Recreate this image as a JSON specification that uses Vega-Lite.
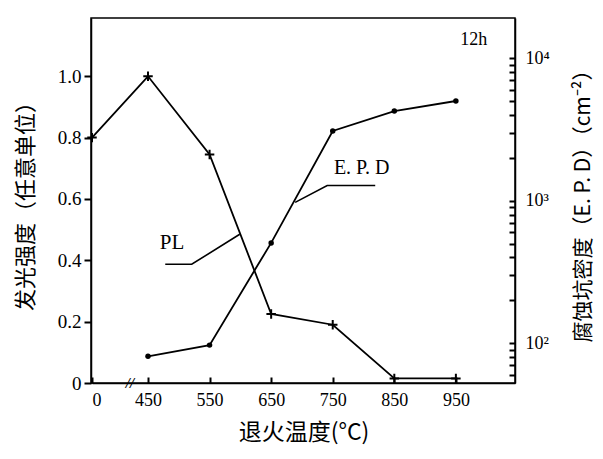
{
  "$schema": "https://vega.github.io/schema/vega-lite/v6.json",
  "width": 424,
  "height": 365,
  "autosize": {"type": "none"},
  "padding": {"left": 91, "top": 18, "right": 88, "bottom": 76},
  "background": "white",
  "config": {
    "view": {"stroke": "black", "strokeWidth": 1.5},
    "axis": {
      "domainColor": "black", "domainWidth": 1.5,
      "tickColor": "black", "tickWidth": 2,
      "labelColor": "black", "titleColor": "black", "grid": false,
      "labelFont": "Liberation Serif", "labelFontSize": 18,
      "titleFont": "Noto Sans CJK SC", "titleFontWeight": "normal", "titleFontSize": 19
    }
  },
  "datasets": {
    "pl": [
      {"T": 0, "v": 0.8},
      {"T": 450, "v": 1.0},
      {"T": 550, "v": 0.745},
      {"T": 650, "v": 0.225},
      {"T": 750, "v": 0.19},
      {"T": 850, "v": 0.015},
      {"T": 950, "v": 0.015}
    ],
    "epd": [
      {"T": 450, "e": 81},
      {"T": 550, "e": 97},
      {"T": 650, "e": 506},
      {"T": 750, "e": 3085},
      {"T": 850, "e": 4260},
      {"T": 950, "e": 5010}
    ],
    "ann": [
      {"T": 979, "v": 1.119, "label": "12h", "s": 18},
      {"T": 489, "v": 0.455, "label": "PL", "s": 21},
      {"T": 797, "v": 0.702, "label": "E. P. D", "s": 20}
    ],
    "leader": [
      {"T": 478, "v": 0.387, "g": "a", "o": 1},
      {"T": 521, "v": 0.387, "g": "a", "o": 2},
      {"T": 599, "v": 0.485, "g": "a", "o": 3},
      {"T": 819, "v": 0.644, "g": "b", "o": 1},
      {"T": 741, "v": 0.644, "g": "b", "o": 2},
      {"T": 689, "v": 0.589, "g": "b", "o": 3}
    ],
    "brk": [
      {"T": 305, "v": 0, "label": "//"}
    ]
  },
  "layer": [
    {
      "data": {"name": "pl"},
      "mark": {"type": "line", "color": "black", "strokeWidth": 1.8,
        "point": {"shape": "M-1,0L1,0M0,-1L0,1", "filled": false, "color": "black", "strokeWidth": 2, "size": 90, "opacity": 1}},
      "encoding": {
        "x": {
          "field": "T", "type": "quantitative",
          "scale": {"domain": [0, 450, 1046], "range": [1, 57, 424], "nice": false, "zero": false},
          "axis": {
            "values": [0, 450, 550, 650, 750, 850, 950], "format": "d",
            "tickSize": -6, "labelPadding": 14, "labelFontSize": 18,
            "title": "退火温度(°C)", "titleFontSize": 23, "titlePadding": 12
          }
        },
        "y": {
          "field": "v", "type": "quantitative",
          "scale": {"domain": [0, 1.19], "nice": false},
          "axis": {
            "orient": "left",
            "values": [0, 0.2, 0.4, 0.6, 0.8, 1.0],
            "labelExpr": "datum.value == 0 ? '0' : format(datum.value, '.1f')",
            "tickSize": 7, "labelPadding": 3, "labelFontSize": 19,
            "title": "发光强度（任意单位）", "titleFontSize": 22, "titlePadding": 20
          }
        }
      }
    },
    {
      "data": {"name": "leader"},
      "mark": {"type": "line", "color": "black", "strokeWidth": 1.6},
      "encoding": {
        "x": {"field": "T", "type": "quantitative"},
        "y": {"field": "v", "type": "quantitative", "scale": {"domain": [0, 1.19], "nice": false}, "axis": null},
        "detail": {"field": "g"},
        "order": {"field": "o", "type": "quantitative"}
      }
    },
    {
      "data": {"name": "ann"},
      "mark": {"type": "text", "font": "Liberation Serif", "color": "black"},
      "encoding": {
        "x": {"field": "T", "type": "quantitative"},
        "y": {"field": "v", "type": "quantitative", "scale": {"domain": [0, 1.19], "nice": false}, "axis": null},
        "text": {"field": "label"},
        "size": {"field": "s", "type": "quantitative", "scale": null}
      }
    },
    {
      "data": {"name": "brk"},
      "mark": {"type": "text", "font": "Liberation Serif", "fontStyle": "italic", "fontSize": 15, "color": "black", "fontWeight": "bold"},
      "encoding": {
        "x": {"field": "T", "type": "quantitative"},
        "y": {"field": "v", "type": "quantitative", "scale": {"domain": [0, 1.19], "nice": false}, "axis": null},
        "text": {"field": "label"}
      }
    },
    {
      "data": {"name": "epd"},
      "mark": {"type": "line", "color": "black", "strokeWidth": 1.8,
        "point": {"shape": "circle", "filled": true, "color": "black", "size": 30, "opacity": 1}},
      "encoding": {
        "x": {
          "field": "T", "type": "quantitative",
          "scale": {"domain": [0, 450, 1046], "range": [1, 57, 424], "nice": false, "zero": false}
        },
        "y": {
          "field": "e", "type": "quantitative",
          "scale": {"type": "log", "domain": [52.6, 19150], "nice": false},
          "axis": {
            "orient": "right",
            "values": [60, 70, 80, 90, 100, 200, 300, 400, 500, 600, 700, 800, 900, 1000, 2000, 3000, 4000, 5000, 6000, 7000, 8000, 9000, 10000],
            "labelExpr": "datum.value == 100 ? '10²' : datum.value == 1000 ? '10³' : datum.value == 10000 ? '10⁴' : ''",
            "tickSize": -6,
            "labelPadding": 16, "labelFontSize": 18,
            "title": "腐蚀坑密度（E. P. D）（cm⁻²）", "titleAngle": 270, "titleFontSize": 21, "titlePadding": 44
          }
        }
      }
    }
  ],
  "resolve": {"scale": {"y": "independent"}}
}
